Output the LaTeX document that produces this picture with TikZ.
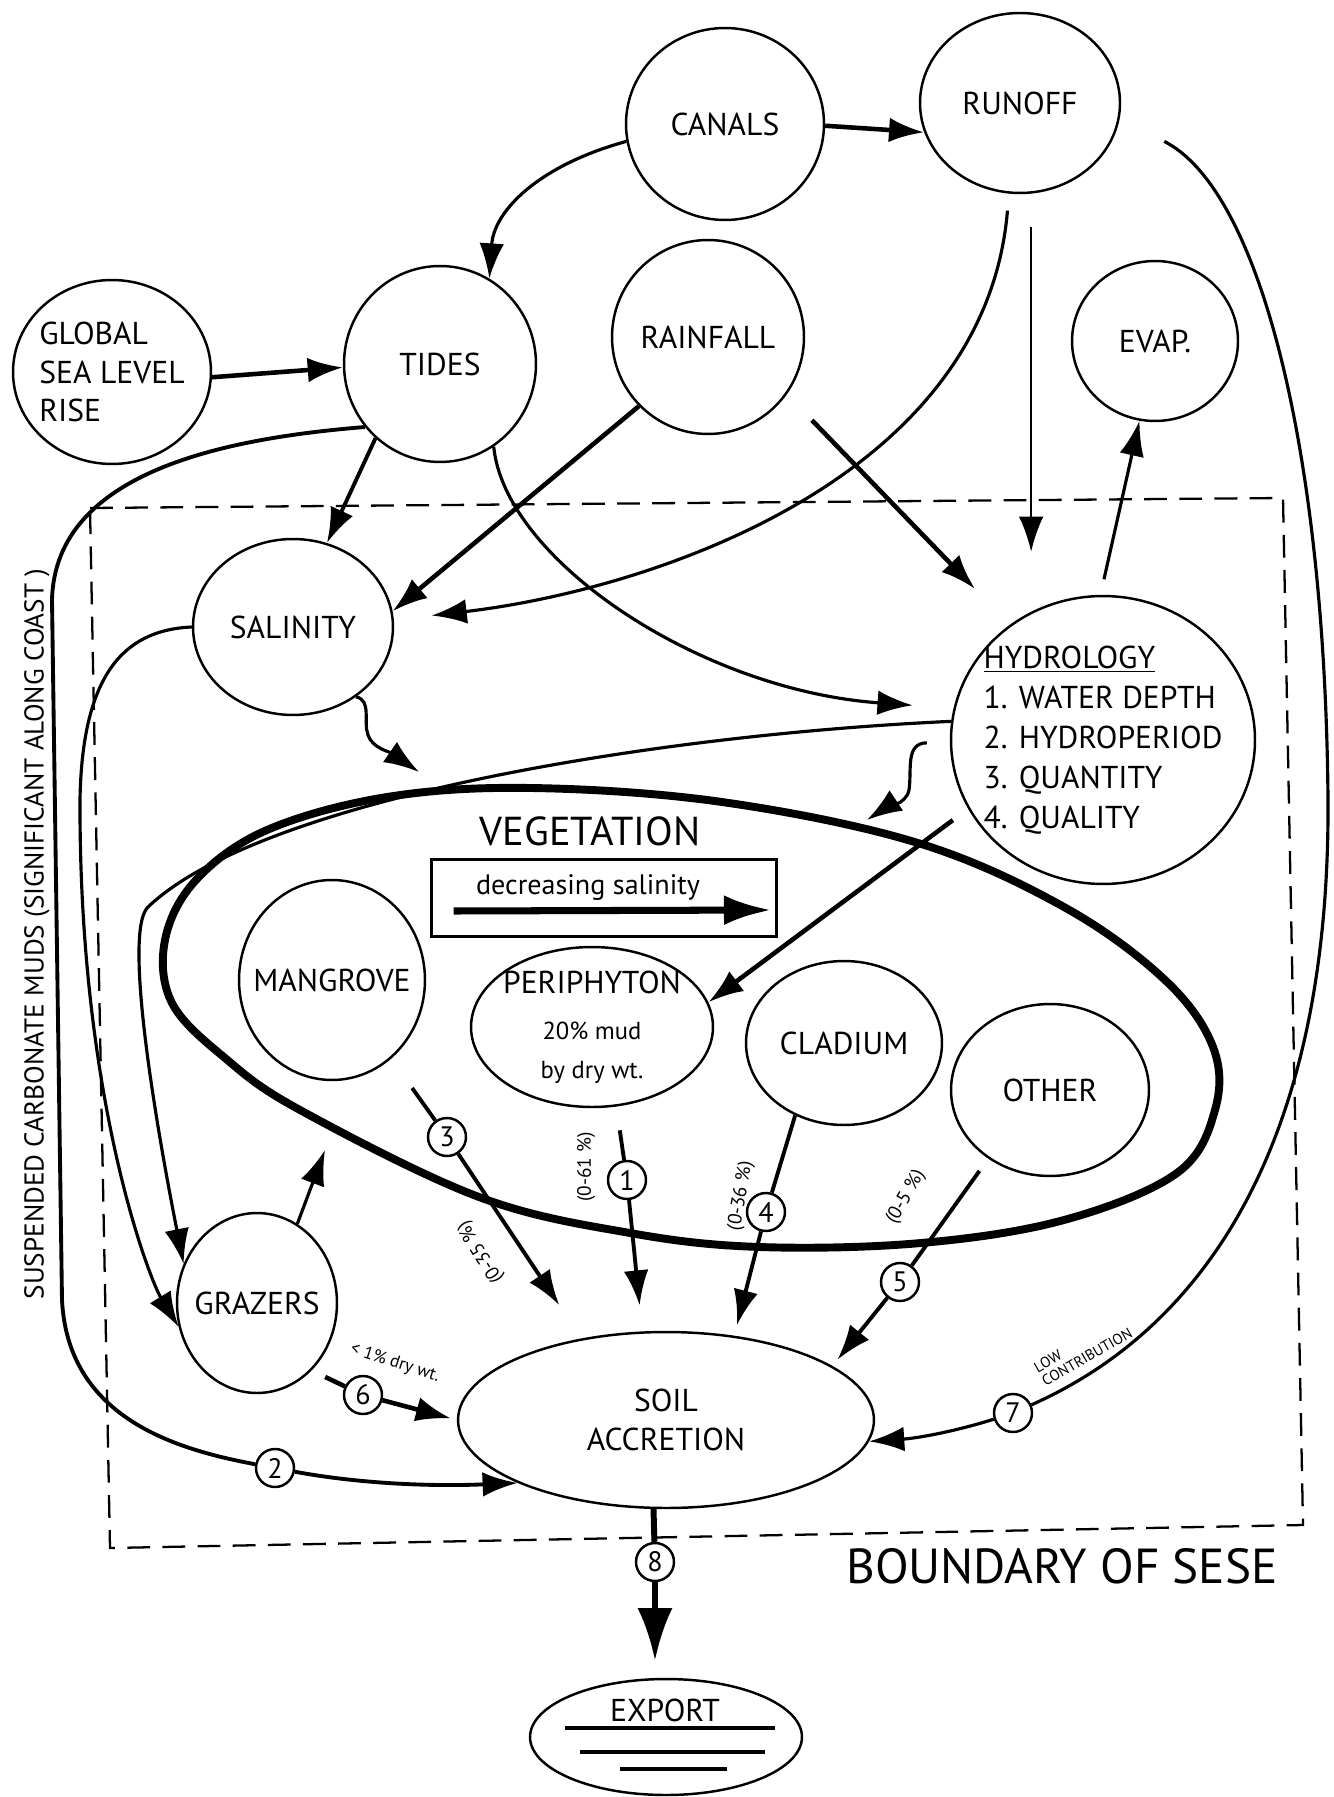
\documentclass[tikz,border=0pt]{standalone}
\usepackage{fontspec}
\setmainfont{PT Sans}
\usetikzlibrary{arrows.meta,positioning,shapes.geometric,calc}
\newcommand{\mainfs}{\fontsize{18}{22}\selectfont}
\newcommand{\mudfs}{\fontsize{14}{17}\selectfont}
\tikzset{
  unit/.style={draw, ellipse, line width=1.4pt, inner sep=-40pt, align=center, font=\mainfs},
  sz/.style 2 args={minimum width=#1cm, minimum height=#2cm},
  numcirc/.style={draw, circle, line width=1.4pt, fill=white, minimum size=0.76cm, inner sep=0pt,
    font=\fontsize{16}{16}\selectfont},
  link/.style={line width=2.2pt},
  flow/.style={-{Latex[length=20pt,width=14pt]}, line width=1.8pt},
  bigflow/.style={flow, line width=2.6pt},
  pct/.style={font=\fontsize{11}{12}\selectfont, inner sep=1pt}
}

\begin{document}
\begin{tikzpicture}[x=0.02cm, y=-0.02cm]
  \useasboundingbox (0,0) rectangle (1334,1797);
  % boundary of SESE
  \draw[line width=1.3pt, dash pattern=on 13pt off 7pt] (90,508) -- (1283,498) -- (1303,1525) -- (110,1548) -- cycle;

  \node[unit, sz={3.96}{3.68}, align=left] (glob) at (112,372) {GLOBAL\\SEA LEVEL\\RISE};
  \node[unit, sz={3.84}{3.92}] (tides) at (440,364) {TIDES};
  \node[unit, sz={3.96}{3.84}] (canals) at (725,124) {CANALS};
  \node[unit, sz={4.0}{3.60}] (runoff) at (1020,103) {RUNOFF};
  \node[unit, sz={3.84}{3.88}] (rain) at (708,337) {RAINFALL};
  \node[unit, sz={3.32}{3.20}] (evap) at (1155,341) {EVAP.};
  \node[unit, sz={4.0}{3.52}] (sal) at (293,627) {SALINITY};
  \node[unit, sz={6.08}{5.76}, align=left, font=\fontsize{18}{22.8}\selectfont] (hydro) at (1103,740)
    {\underline{HYDROLOGY}\\1. WATER DEPTH\\2. HYDROPERIOD\\3. QUANTITY\\4. QUALITY};

  % vegetation
  \draw[line width=4.5pt] plot[smooth cycle, tension=0.6] coordinates {(531,788) (387,797) (267,830) (196,880)
    (165,940) (172,1003) (225,1058) (300,1110) (479,1197) (630,1233) (760,1247) (921,1243) (1064,1220)
    (1177,1173) (1215,1110) (1213,1047) (1165,980) (1064,907) (918,843) (722,802)};
  \node[font=\fontsize{23}{25}\selectfont] (veglbl) at (590,831) {VEGETATION};
  \node[draw, line width=2.2pt, minimum width=6.9cm, minimum height=1.54cm] (salbox) at (604,898) {};
  \node[font=\fontsize{16}{16}\selectfont] (saltxt) at (588,888) {decreasing salinity};
  \draw[-{Latex[length=27pt,width=17pt]}, line width=4pt] ($(salbox.west)+(24,13)$) -- ($(salbox.east)+(-7,12)$);
  \node[unit, sz={3.72}{4.0}] (mang) at (332,980) {MANGROVE};
  \node[unit, sz={4.84}{3.2}] (peri) at (592,1027)
    {PERIPHYTON\\[4.5pt]\mudfs 20\% mud\\\mudfs by dry wt.};
  \node[unit, sz={3.92}{3.28}] (clad) at (844,1043) {CLADIUM};
  \node[unit, sz={3.96}{3.44}] (other) at (1050,1090) {OTHER};
  \node[unit, sz={3.2}{3.6}] (graz) at (257,1303) {GRAZERS};
  \node[unit, sz={8.32}{3.52}] (soil) at (666,1420) {SOIL\\ACCRETION};
  \node[unit, sz={5.44}{2.32}] (export) at (666,1737) {};
  \node[font=\mainfs] (exportlbl) at (665,1710) {EXPORT};
  \foreach \ya/\xa/\xb in {1728/565/775, 1752/580/765, 1769/620/727}
    \draw[line width=2.6pt] (\xa,\ya) -- (\xb,\ya);

  \node[rotate=90, font=\fontsize{15.5}{16}\selectfont] (muds) at (37,934)
    {SUSPENDED CARBONATE MUDS (SIGNIFICANT ALONG COAST )};
  \node[font=\fontsize{28}{30}\selectfont] (sese) at (1062,1566) {BOUNDARY OF SESE};

  \node[numcirc] (n1) at (627,1180) {1};
  \node[numcirc] (n2) at (275,1468) {2};
  \node[numcirc] (n3) at (447,1137) {3};
  \node[numcirc] (n4) at (766,1212) {4};
  \node[numcirc] (n5) at (900,1282) {5};
  \node[numcirc] (n6) at (363,1395) {6};
  \node[numcirc] (n7) at (1013,1413) {7};
  \node[numcirc] (n8) at (655,1562) {8};

  \node[pct, rotate=122] (p3) at (481,1252) {(0-35 \%)};
  \node[pct, rotate=90] (p1) at (586,1167) {(0-61 \%)};
  \node[pct, rotate=80] (p4) at (741,1196) {(0-36 \%)};
  \node[pct, rotate=60] (p5) at (906,1197) {(0-5 \%)};
  \node[pct, rotate=-18, font=\fontsize{10}{11}\selectfont] (p6) at (395,1363) {< 1\% dry wt.};
  \node[pct, rotate=30, align=left, font=\fontsize{8.5}{9}\selectfont] (p7) at (1083,1350) {LOW\\CONTRIBUTION};

  \coordinate (vegnw) at (419,772);
  \coordinate (vegne) at (867,820);
  \coordinate (vegsw) at (325,1150);

  % sources
  \draw[bigflow] (canals.-1) -- (runoff.197);
  \draw[flow] (canals.190) .. controls (540,165) and (494,210) .. (tides.60);
  \draw[bigflow] (glob.-3) -- (tides.182);
  \draw[flow, line width=2.2pt] (tides.229) -- (sal.68);
  \draw[bigflow] (rain.225) -- (sal.9);
  \draw[flow, shorten <=0.34cm, shorten >=0.76cm] (runoff.263) .. controls (985,480) and (650,590) .. (sal.4);
  \draw[flow, line width=1.5pt, shorten <=0.66cm, shorten >=0.86cm] (runoff.277) -- (runoff.277 |- hydro.north);
  \draw[flow, shorten <=0.32cm] (hydro.91) -- (evap.259);
  \draw[bigflow, shorten <=0.72cm, shorten >=1.0cm] (rain.-36) -- (hydro.129);
  \draw[flow, shorten >=0.82cm] (tides.-57) .. controls (505,560) and (700,690) .. (hydro.168);
  \draw[flow] (hydro.173) .. controls (650,735) and (260,800) .. (148,907)
    .. controls (120,934) and (165,1170) .. (graz.152);
  \draw[flow] (sal.180) .. controls (120,630) and (82,680) .. (80,800)
    .. controls (79,1100) and (150,1280) .. (graz.197);
  \draw[flow] (sal.-48) .. controls (372,700) and (363,722) .. (368,735)
    .. controls (372,748) and (390,752) .. (vegnw);
  \draw[flow, shorten <=0.46cm] (hydro.181) .. controls (905,743) and (912,770) .. (909,790)
    .. controls (906,805) and (885,808) .. (vegne);
  \draw[bigflow, shorten <=0.38cm] (hydro.207) -- (peri.12);
  \draw[flow] (graz.63) -- (vegsw);

  % contributions to soil accretion
  \draw[link, shorten <=0.72cm] (mang.-53) -- (n3);
  \draw[flow, line width=2.2pt, shorten >=0.8cm] (n3) -- (soil.136);
  \draw[link, shorten <=0.48cm] (peri.-73) -- (n1);
  \draw[flow, line width=2.2pt, shorten >=0.52cm] (n1) -- (soil.105);
  \draw[link] (clad.236) -- (n4);
  \draw[flow, line width=2.2pt, shorten >=0.22cm] (n4) -- (soil.51);
  \draw[link, shorten <=0.3cm] (other.228) -- (n5);
  \draw[flow, line width=2.2pt, shorten >=0.16cm] (n5) -- (soil.18);
  \draw[link, line width=2.6pt, shorten <=0.3cm] (graz.-51) -- (n6);
  \draw[bigflow, shorten >=0.12cm] (n6) -- (soil.180);
  \draw[link] (tides.220) .. controls (230,438) and (55,470) .. (52,600) -- (62,1300)
    .. controls (68,1420) and (180,1450) .. (n2);
  \draw[flow, line width=2.2pt] (n2) .. controls (350,1482) and (420,1487) .. (soil.203);
  \draw[link, line width=1.8pt, shorten <=1cm] (runoff.-9) .. controls (1260,190) and (1325,450) .. (1328,800)
    .. controls (1330,1150) and (1200,1330) .. (n7);
  \draw[flow] (n7) .. controls (960,1430) and (920,1438) .. (soil.-6);
  \draw[link, line width=3.4pt] (soil.262) -- (n8);
  \draw[-{Latex[length=30pt,width=20pt]}, line width=3.4pt, shorten >=0.34cm] (n8) -- (n8 |- export.north);
\end{tikzpicture}
\end{document}
